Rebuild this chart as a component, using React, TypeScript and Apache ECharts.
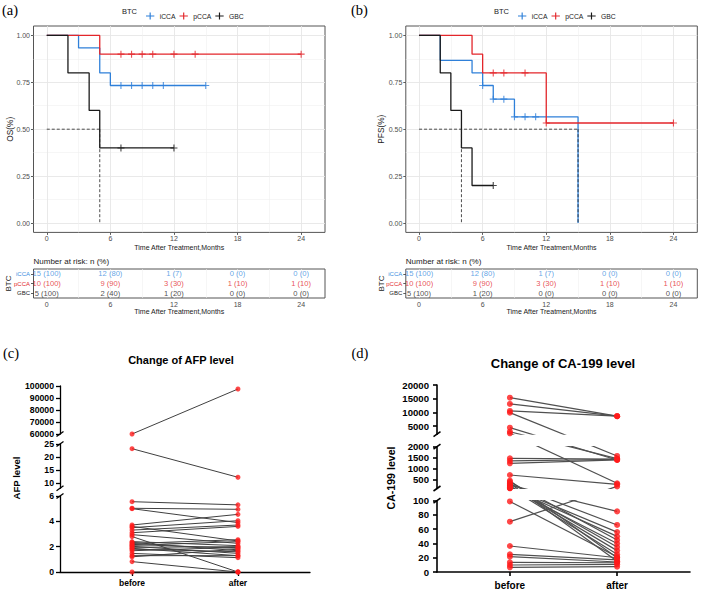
import React, { useEffect, useRef } from 'react';
import * as echarts from 'echarts';

const SANS = '"Liberation Sans", Arial, Helvetica, sans-serif';
const SERIF = '"Liberation Serif", "Times New Roman", Times, serif';

// ---------- Kaplan–Meier data ----------
const MONTH_TICKS = [0, 6, 12, 18, 24];
const MONTH_MINOR = [3, 9, 15, 21];
const TABLE_LINES = [0, 3, 6, 9, 12, 15, 18, 21, 24];
const SURV_TICKS = [0, 0.25, 0.5, 0.75, 1];
const SURV_MINOR = [0.125, 0.375, 0.625, 0.875];
const GROUPS = ['iCCA', 'pCCA', 'GBC'];
const GROUP_COLORS = ['#2F80D9', '#E3262B', '#1A1A1A'];
const GROUP_TEXT_COLORS = ['#3A8DE0', '#E3262B', '#1A1A1A'];
const MEDIAN_LEVEL = 0.5;

const osICCATimes = [0, 3, 5, 6, 15];
const osICCASurv = [1, 0.933, 0.8, 0.733, 0.733];
const osICCACensor = [7, 8, 9, 10, 11, 15];
const osPCCATimes = [0, 5, 24];
const osPCCASurv = [1, 0.9, 0.9];
const osPCCACensor = [7, 8, 9, 10, 12, 14, 24];
const osGBCTimes = [0, 2, 4, 5, 12];
const osGBCSurv = [1, 0.8, 0.6, 0.4, 0.4];
const osGBCCensor = [7, 12];
const osMedians = [5];

const pfsICCATimes = [0, 2, 5, 6, 7, 9, 15];
const pfsICCASurv = [1, 0.867, 0.8, 0.733, 0.66, 0.566, 0];
const pfsICCACensor = [6, 7, 8, 9, 10, 11];
const pfsPCCATimes = [0, 5, 6, 12, 24];
const pfsPCCASurv = [1, 0.9, 0.8, 0.533, 0.533];
const pfsPCCACensor = [7, 8, 10, 12, 24];
const pfsGBCTimes = [0, 2, 3, 4, 5, 7];
const pfsGBCSurv = [1, 0.8, 0.6, 0.4, 0.2, 0.2];
const pfsGBCCensor = [7];
const pfsMedians = [4, 15];

const RISK_TIMES = [0, 6, 12, 18, 24];
const osRiskICCA = [15, 12, 1, 0, 0];
const osRiskPCCA = [10, 9, 3, 1, 1];
const osRiskGBC = [5, 2, 1, 0, 0];
const pfsRiskICCA = [15, 12, 1, 0, 0];
const pfsRiskPCCA = [10, 9, 3, 1, 1];
const pfsRiskGBC = [5, 1, 0, 0, 0];

// ---------- paired data ----------
const PAIR_LABELS = ['before', 'after'];
const afpBefore = [60000, 23.2, 5.55, 5.03, 5.0, 3.71, 3.6, 3.5, 3.31, 3.1, 2.95, 2.8, 2.4, 2.34, 2.25, 2.18, 2.1, 2.03, 1.95, 1.87, 1.8, 1.68, 1.47, 1.29, 1.2, 0.82, 0];
const afpAfter = [97500, 12.2, 5.3, 4.95, 3.9, 4.55, 2.45, 4.05, 3.71, 3.6, 2.26, 0, 2.08, 1.68, 2.55, 1.87, 2.4, 1.47, 2.0, 1.29, 1.6, 1.95, 1.13, 1.29, 1.8, 0, 0];
const afpTicksTop = [60000, 70000, 80000, 90000, 100000];
const afpTicksMid = [10, 15, 20, 25];
const afpTicksLow = [0, 2, 4, 6];

const caBefore = [15365, 13066, 10510, 9890, 4380, 2912, 2327, 1470, 1360, 1245, 714, 455, 400, 336, 300, 255, 220, 180, 150, 130, 120, 110, 99, 70.6, 36.5, 24.8, 21.5, 13.6, 9.8, 6.6];
const caAfter = [8600, 8600, 8600, 1580, 1395, 1460, 336, 1440, 1420, 1400, 290, 20, 45, 15, 66, 85, 35, 30, 56, 25, 50, 40, 21.5, 195, 20, 17, 14, 13, 10.8, 7.4];
const caTicksTop = [5000, 10000, 15000, 20000];
const caTicksMid = [500, 1000, 1500, 2000];
const caTicksLow = [0, 20, 40, 60, 80, 100];

// ---------- layout ----------
const KM_X = [-1.25, 26.25];
const KM_Y = [-0.05, 1.05];
const KM_TOP = 26, KM_H = 206.4, TAB_TOP = 269, TAB_H = 29, KM_W = 291.5;
const PAIR_X = [-0.68, 1.68];
const AFP_SEGS = [
  { min: 60000, max: 100000, top: 386, height: 48, ticks: afpTicksTop },
  { min: 8, max: 25, top: 444, height: 44.2, ticks: afpTicksMid },
  { min: 0, max: 6, top: 496, height: 76, ticks: afpTicksLow },
];
const CA_SEGS = [
  { min: 2000, max: 20000, top: 385, height: 49.2, ticks: caTicksTop },
  { min: 100, max: 2000, top: 446.7, height: 41.8, ticks: caTicksMid },
  { min: 0, max: 100, top: 500.7, height: 71.3, ticks: caTicksLow },
];

const PLUS = 'path://M4.2,0H5.8V4.2H10V5.8H5.8V10H4.2V5.8H0V4.2H4.2Z';
const LEGEND_ICON = 'path://M0,4.4H10V5.6H0Z M4.3,0.8H5.7V9.2H4.3Z';

function survAt(times: number[], surv: number[], t: number) {
  let s = surv[0];
  for (let i = 0; i < times.length; i++) if (times[i] <= t) s = surv[i];
  return s;
}

function segOf(segs: any[], v: number) {
  for (let k = 0; k < segs.length; k++) if (v >= segs[k].min && v <= segs[k].max) return k;
  return -1;
}
function toScreen(segs: any[], v: number) {
  const s = segs[segOf(segs, v)];
  return s.top + ((s.max - v) / (s.max - s.min)) * s.height;
}
function fromScreen(s: any, y: number) {
  return s.max - ((y - s.top) / s.height) * (s.max - s.min);
}

function txt(text: string, x: number, y: number, o: any = {}) {
  return {
    type: 'text', x, y, rotation: o.rot || 0, silent: true,
    style: {
      text, fill: o.color || '#1A1A1A', fontSize: o.size || 8, fontFamily: o.font || SANS,
      fontWeight: o.weight || 'normal', align: o.align || 'center', verticalAlign: 'middle',
    },
  };
}

function addKM(o: any, c: any) {
  const gi = o.grid.length, xi = o.xAxis.length, yi = o.yAxis.length;
  const gridBase = { containLabel: false, outerBoundsMode: 'none', show: true, backgroundColor: '#fff', borderColor: '#555', borderWidth: 1 };
  o.grid.push({ ...gridBase, left: c.left, top: KM_TOP, width: KM_W, height: KM_H });
  o.grid.push({ ...gridBase, left: c.left, top: TAB_TOP, width: KM_W, height: TAB_H });
  const tickText = { fontSize: 7, color: '#4D4D4D', fontFamily: SANS };
  const tickLine = { color: '#333', width: 0.8 };
  const majorSplit = { show: true, lineStyle: { color: '#E6E6E6', width: 0.9 } };
  const minorSplit = { show: true, lineStyle: { color: '#F0F0F0', width: 0.6 } };
  const title = (gap: number) => ({
    name: 'Time After Treatment,Months', nameLocation: 'middle', nameGap: gap, nameMoveOverlap: false,
    nameTextStyle: { fontSize: 7, color: '#1A1A1A', fontFamily: SANS },
  });
  o.xAxis.push({
    gridIndex: gi, type: 'value', min: KM_X[0], max: KM_X[1], position: 'bottom',
    axisLine: { show: false, onZero: false },
    axisTick: { show: true, customValues: MONTH_TICKS, length: 2.5, lineStyle: tickLine },
    axisLabel: { customValues: MONTH_TICKS, margin: 3, ...tickText },
    splitLine: majorSplit, ...title(11.4),
  });
  o.xAxis.push({
    gridIndex: gi, type: 'value', min: KM_X[0], max: KM_X[1], position: 'top',
    axisLine: { show: false, onZero: false }, axisTick: { show: false, customValues: MONTH_MINOR },
    axisLabel: { show: false }, splitLine: minorSplit,
  });
  o.xAxis.push({
    gridIndex: gi + 1, type: 'value', min: KM_X[0], max: KM_X[1], position: 'bottom',
    axisLine: { show: false, onZero: false }, axisTick: { show: false, customValues: TABLE_LINES },
    axisLabel: { customValues: MONTH_TICKS, margin: 2.5, ...tickText },
    splitLine: minorSplit, ...title(10),
  });
  o.yAxis.push({
    gridIndex: gi, type: 'value', min: KM_Y[0], max: KM_Y[1], position: 'left',
    axisLine: { show: false, onZero: false },
    axisTick: { show: true, customValues: SURV_TICKS, length: 2.5, lineStyle: tickLine },
    axisLabel: { customValues: SURV_TICKS, formatter: (v: number) => v.toFixed(2), margin: 3.5, ...tickText },
    splitLine: majorSplit,
  });
  o.yAxis.push({
    gridIndex: gi, type: 'value', min: KM_Y[0], max: KM_Y[1], position: 'right',
    axisLine: { show: false, onZero: false }, axisTick: { show: false, customValues: SURV_MINOR },
    axisLabel: { show: false }, splitLine: minorSplit,
  });
  o.yAxis.push({
    gridIndex: gi + 1, type: 'category', position: 'left',
    data: [2, 1, 0].map((k) => ({ value: GROUPS[k], textStyle: { color: GROUP_TEXT_COLORS[k] } })),
    axisLine: { show: false, onZero: false },
    axisTick: { show: true, alignWithLabel: true, length: 2.5, lineStyle: tickLine },
    axisLabel: { fontSize: 6, margin: 3.5, fontFamily: SANS },
    splitLine: { show: false },
  });

  c.curves.forEach((cv: any, k: number) => {
    const color = GROUP_COLORS[k];
    o.series.push({
      name: GROUPS[k], type: 'line', xAxisIndex: xi, yAxisIndex: yi, step: 'end',
      data: cv.times.map((t: number, i: number) => [t, cv.surv[i]]),
      symbol: 'none', showSymbol: false, silent: true, z: 3,
      lineStyle: { color, width: 1.3 }, itemStyle: { color },
    });
    o.series.push({
      name: GROUPS[k], type: 'scatter', xAxisIndex: xi, yAxisIndex: yi,
      data: cv.censor.map((t: number) => [t, survAt(cv.times, cv.surv, t)]),
      symbol: PLUS, symbolSize: 7, itemStyle: { color }, silent: true, z: 4,
    });
  });
  const dashed = { type: 'line', xAxisIndex: xi, yAxisIndex: yi, symbol: 'none', showSymbol: false, silent: true, z: 5, lineStyle: { color: '#222', width: 0.8, type: [3, 2] } };
  o.series.push({ ...dashed, data: [[0, MEDIAN_LEVEL], [Math.max(...c.medians), MEDIAN_LEVEL]] });
  c.medians.forEach((m: number) => o.series.push({ ...dashed, data: [[m, MEDIAN_LEVEL], [m, 0]] }));

  c.risk.forEach((n: number[], k: number) => {
    o.series.push({
      type: 'scatter', xAxisIndex: xi + 2, yAxisIndex: yi + 2, silent: true,
      data: RISK_TIMES.map((t) => [t, 2 - k]), symbolSize: 1, itemStyle: { color: 'rgba(0,0,0,0)' },
      label: {
        show: true, position: 'inside', color: GROUP_TEXT_COLORS[k], fontSize: 7.6, fontFamily: SANS,
        formatter: (p: any) => `${n[p.dataIndex]} (${Math.round((100 * n[p.dataIndex]) / n[0])})`,
      },
    });
  });

  o.legend.push({
    left: c.legendLeft, top: 7.5, itemWidth: 9, itemHeight: 7, itemGap: 4, selectedMode: false,
    data: GROUPS.map((g) => ({ name: g, icon: LEGEND_ICON })),
    textStyle: { fontSize: 6.8, color: '#1A1A1A', fontFamily: SANS },
  });
  const g = o.graphic.elements;
  g.push(txt(c.panel, c.panelX, 9.5, { font: SERIF, size: 14.5, align: 'left', color: '#000' }));
  g.push(txt('BTC', c.legendLeft - 4, 11.5, { size: 7.5, align: 'right' }));
  g.push(txt(c.yTitle, c.yTitleX, KM_TOP + KM_H / 2, { size: 8.3, rot: Math.PI / 2 }));
  g.push(txt('Number at risk: n (%)', c.left, 261, { size: 8, align: 'left', color: '#222' }));
  g.push(txt('BTC', c.tableBtcX, TAB_TOP + TAB_H / 2, { size: 8, rot: Math.PI / 2 }));
}

function addPaired(o: any, c: any) {
  const { left, width, segs, before, after } = c;
  const g0 = o.grid.length, x0 = o.xAxis.length, y0 = o.yAxis.length;
  const axisLineStyle = { color: '#000', width: c.axisWidth };
  segs.forEach((s: any, k: number) => {
    const isLow = k === segs.length - 1;
    o.grid.push({ left, top: s.top, width, height: s.height, show: false, containLabel: false, outerBoundsMode: 'none' });
    o.xAxis.push({
      gridIndex: g0 + k, type: 'value', min: PAIR_X[0], max: PAIR_X[1], show: isLow, position: 'bottom',
      axisLine: { show: true, onZero: false, lineStyle: axisLineStyle },
      axisTick: { show: true, customValues: [0, 1], length: 4, lineStyle: axisLineStyle },
      axisLabel: {
        customValues: [0, 1], formatter: (v: number) => PAIR_LABELS[Math.round(v)], margin: c.xMargin,
        fontSize: c.xFont, fontWeight: 'bold', color: '#000', fontFamily: SANS,
      },
      splitLine: { show: false },
    });
    o.yAxis.push({
      gridIndex: g0 + k, type: 'value', min: s.min, max: s.max, position: 'left',
      axisLine: { show: true, onZero: false, lineStyle: axisLineStyle },
      axisTick: { show: true, customValues: s.ticks, length: 4, lineStyle: axisLineStyle },
      axisLabel: {
        customValues: s.ticks, formatter: (v: number) => String(v), margin: c.yMargin,
        fontSize: c.yFont, fontWeight: 'bold', color: '#000', fontFamily: SANS,
      },
      splitLine: { show: false },
    });
  });
  before.forEach((b: number, i: number) => {
    const yb = toScreen(segs, b), ya = toScreen(segs, after[i]);
    segs.forEach((s: any, k: number) => {
      if (Math.max(yb, ya) < s.top || Math.min(yb, ya) > s.top + s.height) return;
      o.series.push({
        type: 'line', xAxisIndex: x0 + k, yAxisIndex: y0 + k, clip: true, silent: true, z: 2,
        data: [[0, fromScreen(s, yb)], [1, fromScreen(s, ya)]],
        symbol: 'none', showSymbol: false, lineStyle: { color: c.lineColor, width: c.lineWidth },
      });
    });
  });
  segs.forEach((s: any, k: number) => {
    const pts: number[][] = [];
    before.forEach((v: number) => { if (segOf(segs, v) === k) pts.push([0, v]); });
    after.forEach((v: number) => { if (segOf(segs, v) === k) pts.push([1, v]); });
    o.series.push({
      type: 'scatter', xAxisIndex: x0 + k, yAxisIndex: y0 + k, data: pts, symbol: 'circle',
      symbolSize: c.dot, itemStyle: { color: '#FF1A1A' }, clip: false, silent: true, z: 4,
    });
  });
  const g = o.graphic.elements;
  for (let k = 0; k < segs.length - 1; k++) {
    [segs[k].top + segs[k].height, segs[k + 1].top].forEach((y: number) =>
      g.push({
        type: 'line', silent: true, z: 10,
        shape: { x1: left - 3.5, y1: y + 2.5, x2: left + 3.5, y2: y - 2.5 },
        style: { stroke: '#000', lineWidth: c.axisWidth },
      })
    );
  }
  g.push(txt(c.panel, c.panelX, 352.5, { font: SERIF, size: 14.5, align: 'left', color: '#000' }));
  g.push(txt(c.title, c.titleX, c.titleY, { size: c.titleSize, weight: 'bold', color: '#000' }));
  g.push(txt(c.yTitle, c.yTitleX, 478, { size: c.yTitleSize, weight: 'bold', color: '#000', rot: Math.PI / 2 }));
}

function buildOption() {
  const o: any = {
    animation: false, backgroundColor: '#fff', textStyle: { fontFamily: SANS },
    grid: [], xAxis: [], yAxis: [], series: [], legend: [], graphic: { elements: [] },
  };
  addKM(o, {
    left: 33.5, panel: '(a)', panelX: 2, legendLeft: 141, yTitle: 'OS(%)', yTitleX: 10, tableBtcX: 8,
    medians: osMedians, risk: [osRiskICCA, osRiskPCCA, osRiskGBC],
    curves: [
      { times: osICCATimes, surv: osICCASurv, censor: osICCACensor },
      { times: osPCCATimes, surv: osPCCASurv, censor: osPCCACensor },
      { times: osGBCTimes, surv: osGBCSurv, censor: osGBCCensor },
    ],
  });
  addKM(o, {
    left: 405.8, panel: '(b)', panelX: 351, legendLeft: 513, yTitle: 'PFS(%)', yTitleX: 380.5, tableBtcX: 381.5,
    medians: pfsMedians, risk: [pfsRiskICCA, pfsRiskPCCA, pfsRiskGBC],
    curves: [
      { times: pfsICCATimes, surv: pfsICCASurv, censor: pfsICCACensor },
      { times: pfsPCCATimes, surv: pfsPCCASurv, censor: pfsPCCACensor },
      { times: pfsGBCTimes, surv: pfsGBCSurv, censor: pfsGBCCensor },
    ],
  });
  addPaired(o, {
    left: 60, width: 250, segs: AFP_SEGS, before: afpBefore, after: afpAfter,
    axisWidth: 1.3, lineColor: '#404040', lineWidth: 1, dot: 5,
    xFont: 8.5, xMargin: 6, yFont: 8.7, yMargin: 6,
    panel: '(c)', panelX: 3, title: 'Change of AFP level', titleX: 181, titleY: 360, titleSize: 11,
    yTitle: 'AFP level', yTitleX: 16.5, yTitleSize: 9.6,
  });
  addPaired(o, {
    left: 437, width: 253, segs: CA_SEGS, before: caBefore, after: caAfter,
    axisWidth: 1.6, lineColor: '#505050', lineWidth: 1.2, dot: 6,
    xFont: 10, xMargin: 8.5, yFont: 9.6, yMargin: 8,
    panel: '(d)', panelX: 351.5, title: 'Change of CA-199 level', titleX: 563, titleY: 363, titleSize: 13,
    yTitle: 'CA-199 level', yTitleX: 391, yTitleSize: 10.6,
  });
  return o;
}

export default function App() {
  const ref = useRef<HTMLDivElement>(null);
  useEffect(() => {
    const chart = echarts.init(ref.current as HTMLDivElement, null, { renderer: 'svg' });
    chart.setOption(buildOption());
    return () => chart.dispose();
  }, []);
  return (
    <div
      ref={ref}
      style={{ position: 'absolute', left: 0, top: 0, width: 701, height: 592, background: '#fff' }}
    />
  );
}
